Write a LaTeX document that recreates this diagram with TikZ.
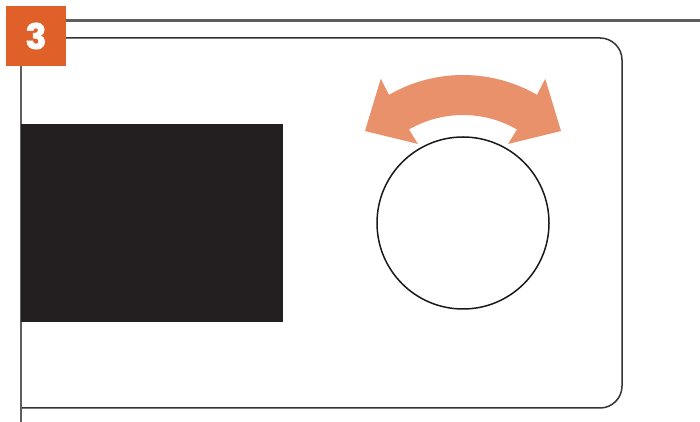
\documentclass[tikz,border=0pt]{standalone}
\usepackage{fontspec}
\newfontfamily\badgefont{Poppins}[BoldFeatures={FakeBold=2}]
\definecolor{badge}{HTML}{E0602A}
\definecolor{arrowc}{HTML}{E8916A}
\definecolor{rule}{HTML}{5E5E5E}
\definecolor{edge}{HTML}{333333}
\definecolor{screen}{HTML}{231F20}
\tikzset{
  rulebar/.style={draw=rule, line width=2.4pt},
  panel/.style={draw=edge, line width=1.5pt},
  knob/.style={draw=black!90, line width=1.5pt, fill=white},
}
\begin{document}
\begin{tikzpicture}[x=1pt,y=1pt]
\useasboundingbox (0,0) rectangle (700,422);
% panel outline
\draw[panel, rounded corners=22] (21,384) -- (622,384) -- (622,14) -- (21,14);
% rules
\draw[rulebar] (21,0) -- (21,356);
\draw[rulebar] (66,401.5) -- (700,401.5);
% screen
\fill[screen] (21,100) rectangle (283,298);
% knob
\node[knob, circle, minimum size=172pt, inner sep=0pt] (knob) at (463,199) {};
% curved double arrow
\begin{scope}[shift={(463,199)}]
\fill[arrowc] (60:108) -- (60.3:91) -- (98,92) -- (60.3:166) -- (60:148)
  arc[start angle=60, end angle=120, radius=148]
  -- (119.7:166) -- (-98,92) -- (119.7:91) -- (120:108)
  arc[start angle=120, end angle=60, radius=108] -- cycle;
\end{scope}
% badge
\node[fill=badge, minimum size=60pt, inner sep=0pt, text=white,
  font=\badgefont\bfseries\fontsize{35}{35}\selectfont] (badge) at (36,386) {\raisebox{-3pt}{3}};
\end{tikzpicture}
\end{document}
